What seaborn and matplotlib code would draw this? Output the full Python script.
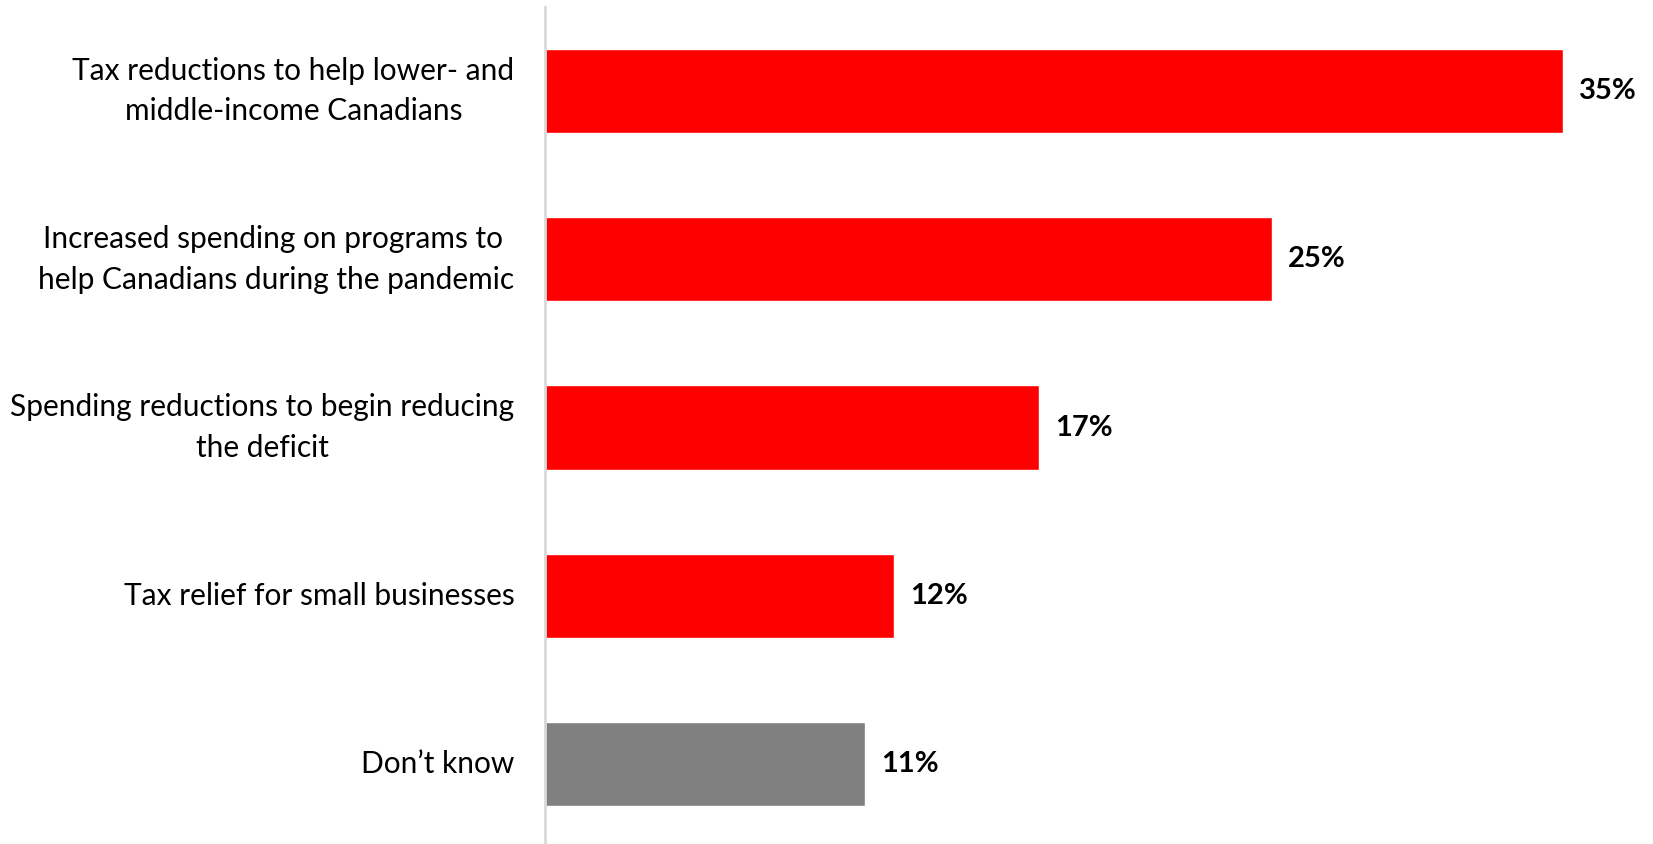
import matplotlib
matplotlib.use("Agg")
import matplotlib.pyplot as plt
import seaborn as sns
import pandas as pd

categories = [
    "Tax reductions to help lower- and\nmiddle-income Canadians",
    "Increased spending on programs to \nhelp Canadians during the pandemic",
    "Spending reductions to begin reducing\nthe deficit",
    "Tax relief for small businesses",
    "Don\u2019t know",
]
values = [35, 25, 17, 12, 11]
colors = ["#ff0000", "#ff0000", "#ff0000", "#ff0000", "#808080"]
value_labels = ["35%", "25%", "17%", "12%", "11%"]

df = pd.DataFrame({"category": categories, "value": values})

sns.set_style("white")
plt.rcParams["font.family"] = ["Lato", "DejaVu Sans"]

W, H = 1653, 844
fig = plt.figure(figsize=(W / 100, H / 100), dpi=100)
ax = fig.add_axes([545 / W, -4 / H, (W - 545) / W, (844 - 7 + 4) / H])

sns.barplot(data=df, x="value", y="category", hue="category", palette=colors,
            legend=False, width=0.5, ax=ax, saturation=1)

ax.set_xlim(0, 38.1)
ax.set_ylim(4.5, -0.5)
ax.set_xlabel("")
ax.set_ylabel("")
ax.set_xticks([])
for s in ["top", "right", "bottom"]:
    ax.spines[s].set_visible(False)
ax.spines["left"].set_color("#d9d9d9")
ax.spines["left"].set_linewidth(2)
ax.tick_params(axis="y", length=0, pad=22, labelsize=21.5)
for t in ax.get_yticklabels():
    t.set_multialignment("center")
    t.set_linespacing(1.55)
    t.set_verticalalignment("center")
    t.set_color("black")

for i, (v, lab) in enumerate(zip(values, value_labels)):
    ax.annotate(lab, xy=(v, i), xytext=(16, 0), textcoords="offset pixels",
                ha="left", va="center", fontsize=21, fontweight="bold", color="black")

fig.savefig("out.png", dpi=100)
